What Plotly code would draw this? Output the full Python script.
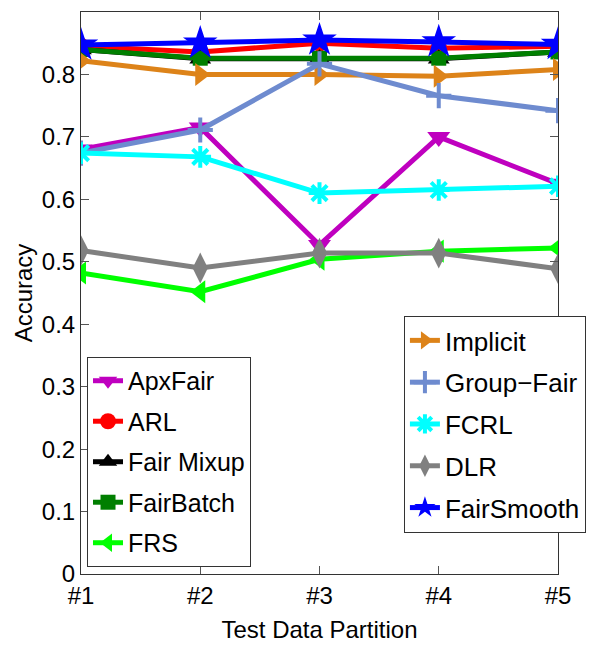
import plotly.graph_objects as go

partitions = ["#1", "#2", "#3", "#4", "#5"]
x_pos = [1, 2, 3, 4, 5]

apxfair    = [0.680, 0.715, 0.527, 0.700, 0.625]
arl        = [0.845, 0.836, 0.850, 0.842, 0.845]
fair_mixup = [0.840, 0.825, 0.825, 0.825, 0.836]
fairbatch  = [0.840, 0.826, 0.826, 0.826, 0.836]
frs        = [0.482, 0.452, 0.504, 0.517, 0.522]
implicit   = [0.822, 0.800, 0.800, 0.797, 0.808]
group_fair = [0.674, 0.711, 0.817, 0.766, 0.742]
fcrl       = [0.674, 0.668, 0.610, 0.615, 0.621]
dlr        = [0.518, 0.490, 0.514, 0.514, 0.489]
fairsmooth = [0.847, 0.850, 0.855, 0.852, 0.848]

y_ticks = [0, 0.1, 0.2, 0.3, 0.4, 0.5, 0.6, 0.7, 0.8]
y_tick_labels = ["0", "0.1", "0.2", "0.3", "0.4", "0.5", "0.6", "0.7", "0.8"]

FONT = "Liberation Sans, Arial, sans-serif"

series = [
    ("ApxFair", apxfair, "#BF00BF", "triangle-down", 20, "legend"),
    ("ARL", arl, "#FF0000", "circle", 17, "legend"),
    ("Fair Mixup", fair_mixup, "#000000", "triangle-up", 19, "legend"),
    ("FairBatch", fairbatch, "#007F00", "square", 15, "legend"),
    ("FRS", frs, "#00FF00", "triangle-left", 20, "legend"),
    ("Implicit", implicit, "#DD8319", "triangle-right", 20, "legend2"),
    ("Group\u2212Fair", group_fair, "#6E8BCF", "cross-thin-open", 18, "legend2"),
    ("FCRL", fcrl, "#00FFFF", "asterisk-open", 18, "legend2"),
    ("DLR", dlr, "#808080", "diamond-tall", 22, "legend2"),
    ("FairSmooth", fairsmooth, "#0000FF", "star", 26, "legend2"),
]

fig = go.Figure()
for name, vals, color, sym, size, lg in series:
    open_sym = sym.endswith("open")
    fig.add_trace(go.Scatter(
        x=x_pos, y=vals, name=name, mode="lines+markers",
        line=dict(color=color, width=5),
        marker=dict(symbol=sym, size=size, color=color,
                    line=dict(color=color, width=4 if open_sym else 0)),
        legend=lg, legendgroup=name,
    ))

axis_common = dict(
    showline=True, linecolor="#333333", linewidth=1, mirror="ticks",
    ticks="inside", ticklen=8, tickcolor="#555555", showgrid=False, zeroline=False,
    tickfont=dict(family=FONT, size=24, color="black"),
)

fig.update_layout(
    width=592, height=641,
    margin=dict(l=73, r=42, t=4, b=75, autoexpand=False),
    paper_bgcolor="white", plot_bgcolor="white",
    showlegend=True,
    font=dict(family=FONT, color="black"),
    xaxis=dict(range=[1, 5], tickvals=x_pos, ticktext=partitions,
               title=dict(text="Test Data Partition", font=dict(family=FONT, size=24), standoff=13),
               **axis_common),
    yaxis=dict(range=[0, 0.9], tickvals=y_ticks, ticktext=y_tick_labels,
               title=dict(text="Accuracy", font=dict(family=FONT, size=24), standoff=2),
               **axis_common),
    legend=dict(x=0.0126, y=0.0125, xanchor="left", yanchor="bottom",
                bgcolor="white", bordercolor="#333333", borderwidth=1,
                font=dict(family=FONT, size=25), tracegroupgap=5, itemwidth=30),
    legend2=dict(x=0.677, y=0.073, xanchor="left", yanchor="bottom",
                 bgcolor="white", bordercolor="#333333", borderwidth=1,
                 font=dict(family=FONT, size=26), tracegroupgap=5, itemwidth=30),
)

fig.write_html("out.html")
